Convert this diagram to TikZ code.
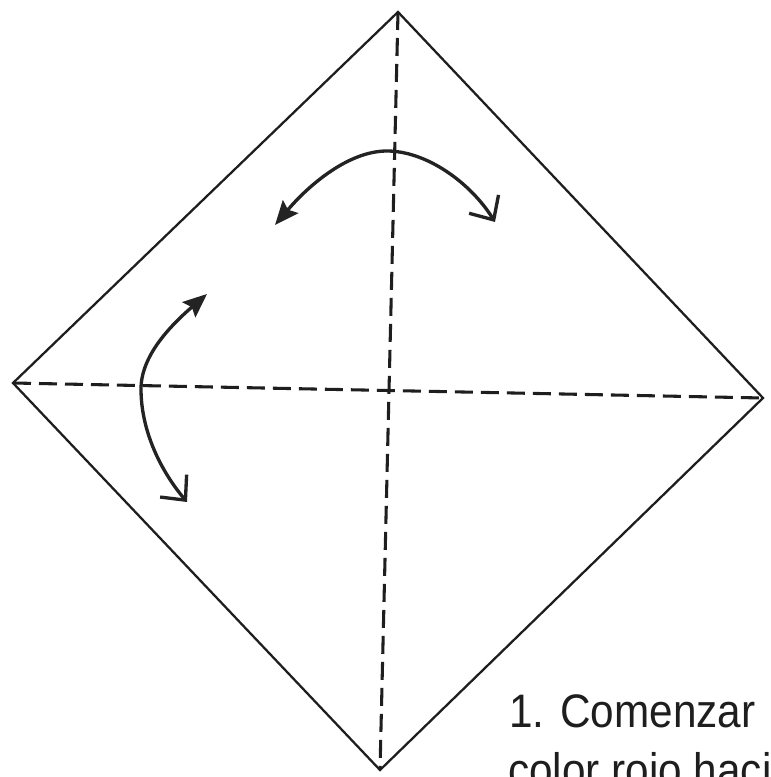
\documentclass[tikz,border=0pt]{standalone}
\usepackage{amsmath,amssymb,graphicx,xcolor,tikz}
\usepackage{fontspec}
\newfontfamily\stepfont{Liberation Sans}
\usetikzlibrary{arrows.meta}

\begin{document}
\begin{tikzpicture}[x=0.75pt,y=0.75pt,yscale=-1,xscale=1,
  edgeline/.style={color={rgb, 255:red, 30; green, 30; blue, 30 },line width=1.7pt,line join=miter},
  foldline/.style={color={rgb, 255:red, 30; green, 30; blue, 30 },line width=2.3pt,dash pattern=on 13.5pt off 6pt},
  flipArrow/.style={color={rgb, 255:red, 35; green, 35; blue, 35 },line width=2.5pt,
    {Stealth[length=18pt,width=15pt,inset=3pt]}-{Straight Barb[length=14pt,width=26pt,line width=2.5pt]}},
  steptext/.style={anchor=base west,inner sep=0pt,color={rgb, 255:red, 30; green, 30; blue, 30 },font=\stepfont\fontsize{35.25}{42}\selectfont}]

\useasboundingbox (0,0) rectangle (770,777);
\clip (0,0) rectangle (770,777);
\fill [white] (0,0) rectangle (770,777);

\coordinate (top) at (398,12);
\coordinate (right) at (763,398);
\coordinate (bottom) at (380,770);
\coordinate (left) at (13,383);

\draw [foldline] (top) -- (bottom) ;

\draw [foldline] (left) -- (right) ;

\draw [edgeline] (top) -- (right) -- (bottom) -- (left) -- cycle ;

\coordinate (topA) at (275,225);
\coordinate (topM) at (387,151);
\coordinate (topB) at (495,222);

\coordinate (sideA) at (207,294);
\coordinate (sideM) at (141,389);
\coordinate (sideB) at (187,502);

\draw [flipArrow] (topA) .. controls (308,186) and (348,151) .. (topM) .. controls (426,151) and (470,182) .. (topB) ;

\draw [flipArrow] (sideA) .. controls (170,326) and (141,356) .. (sideM) .. controls (141,430) and (160,470) .. (sideB) ;

\node (stepA) [steptext] at (509,727) {\scalebox{0.9}[1]{1. Comenzar}};

\node (stepB) [steptext] at (508,786) {\scalebox{0.9}[1]{color rojo haci}};

\end{tikzpicture}
\end{document}
